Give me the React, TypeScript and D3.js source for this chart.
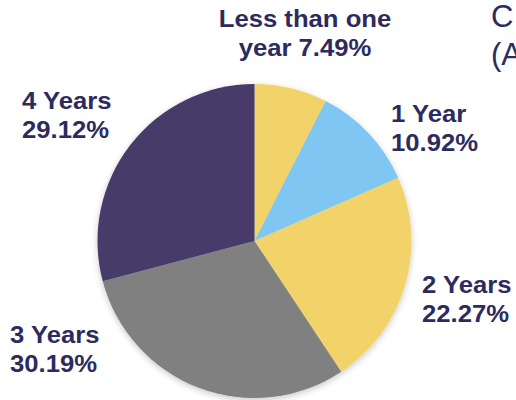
import React from "react";
import * as d3 from "d3";

const categories = ["Less than one year", "1 Year", "2 Years", "3 Years", "4 Years"];
const values = [7.49, 10.92, 22.27, 30.19, 29.12];
const colors = ["#f2d36b", "#7fc6f2", "#f2d36b", "#808080", "#463b6b"];
const labelLines = [
  ["Less than one", "year 7.49%"],
  ["1 Year", "10.92%"],
  ["2 Years", "22.27%"],
  ["3 Years", "30.19%"],
  ["4 Years", "29.12%"],
];
const titleLines = ["C", "(A"];

const W = 516;
const H = 400;
const TEXT = "#2d2b5e";

export default function App() {
  const cx = 254.5;
  const cy = 241;
  const r = 157;
  const pie = d3.pie<number>().sort(null).value((d) => d);
  const arcs = pie(values);
  const arc = d3.arc<d3.PieArcDatum<number>>().innerRadius(0).outerRadius(r);

  // label layout: [x, baseline y, anchor]
  const labelPos: [number, number, string][] = [
    [305, 27, "middle"],
    [391, 122, "start"],
    [422, 293, "start"],
    [10, 343, "start"],
    [22, 109, "start"],
  ];
  const lineH = 29.5;
  const sx = 1.07;

  return (
    <div style={{ position: "absolute", left: 0, top: 0 }}>
      <svg width={W} height={H} style={{ display: "block" }}>
        <defs>
          <filter id="sh" x="-20%" y="-20%" width="140%" height="140%">
            <feDropShadow dx="0" dy="2" stdDeviation="3" floodColor="#000" floodOpacity="0.22" />
          </filter>
        </defs>
        <rect width={W} height={H} fill="#ffffff" />
        <g transform={`translate(${cx},${cy})`} filter="url(#sh)">
          {arcs.map((a, i) => (
            <path key={categories[i]} d={arc(a) || ""} fill={colors[i]} />
          ))}
        </g>
        <g fontFamily="'Liberation Sans', Arial, sans-serif" fontWeight="bold" fontSize={24} fill={TEXT}>
          {labelLines.map((lines, i) => (
            <g key={i} transform={`translate(${labelPos[i][0]},0) scale(${sx},1)`}>
              <text textAnchor={labelPos[i][2] as any}>
                {lines.map((t, j) => (
                  <tspan key={j} x={0} y={labelPos[i][1] + j * lineH}>
                    {t}
                  </tspan>
                ))}
              </text>
            </g>
          ))}
        </g>
        <g fontFamily="'Liberation Sans', Arial, sans-serif" fontSize={31} fill={TEXT}>
          {titleLines.map((t, j) => (
            <text key={j} x={491} y={27 + j * 38}>
              {t}
            </text>
          ))}
        </g>
      </svg>
    </div>
  );
}
